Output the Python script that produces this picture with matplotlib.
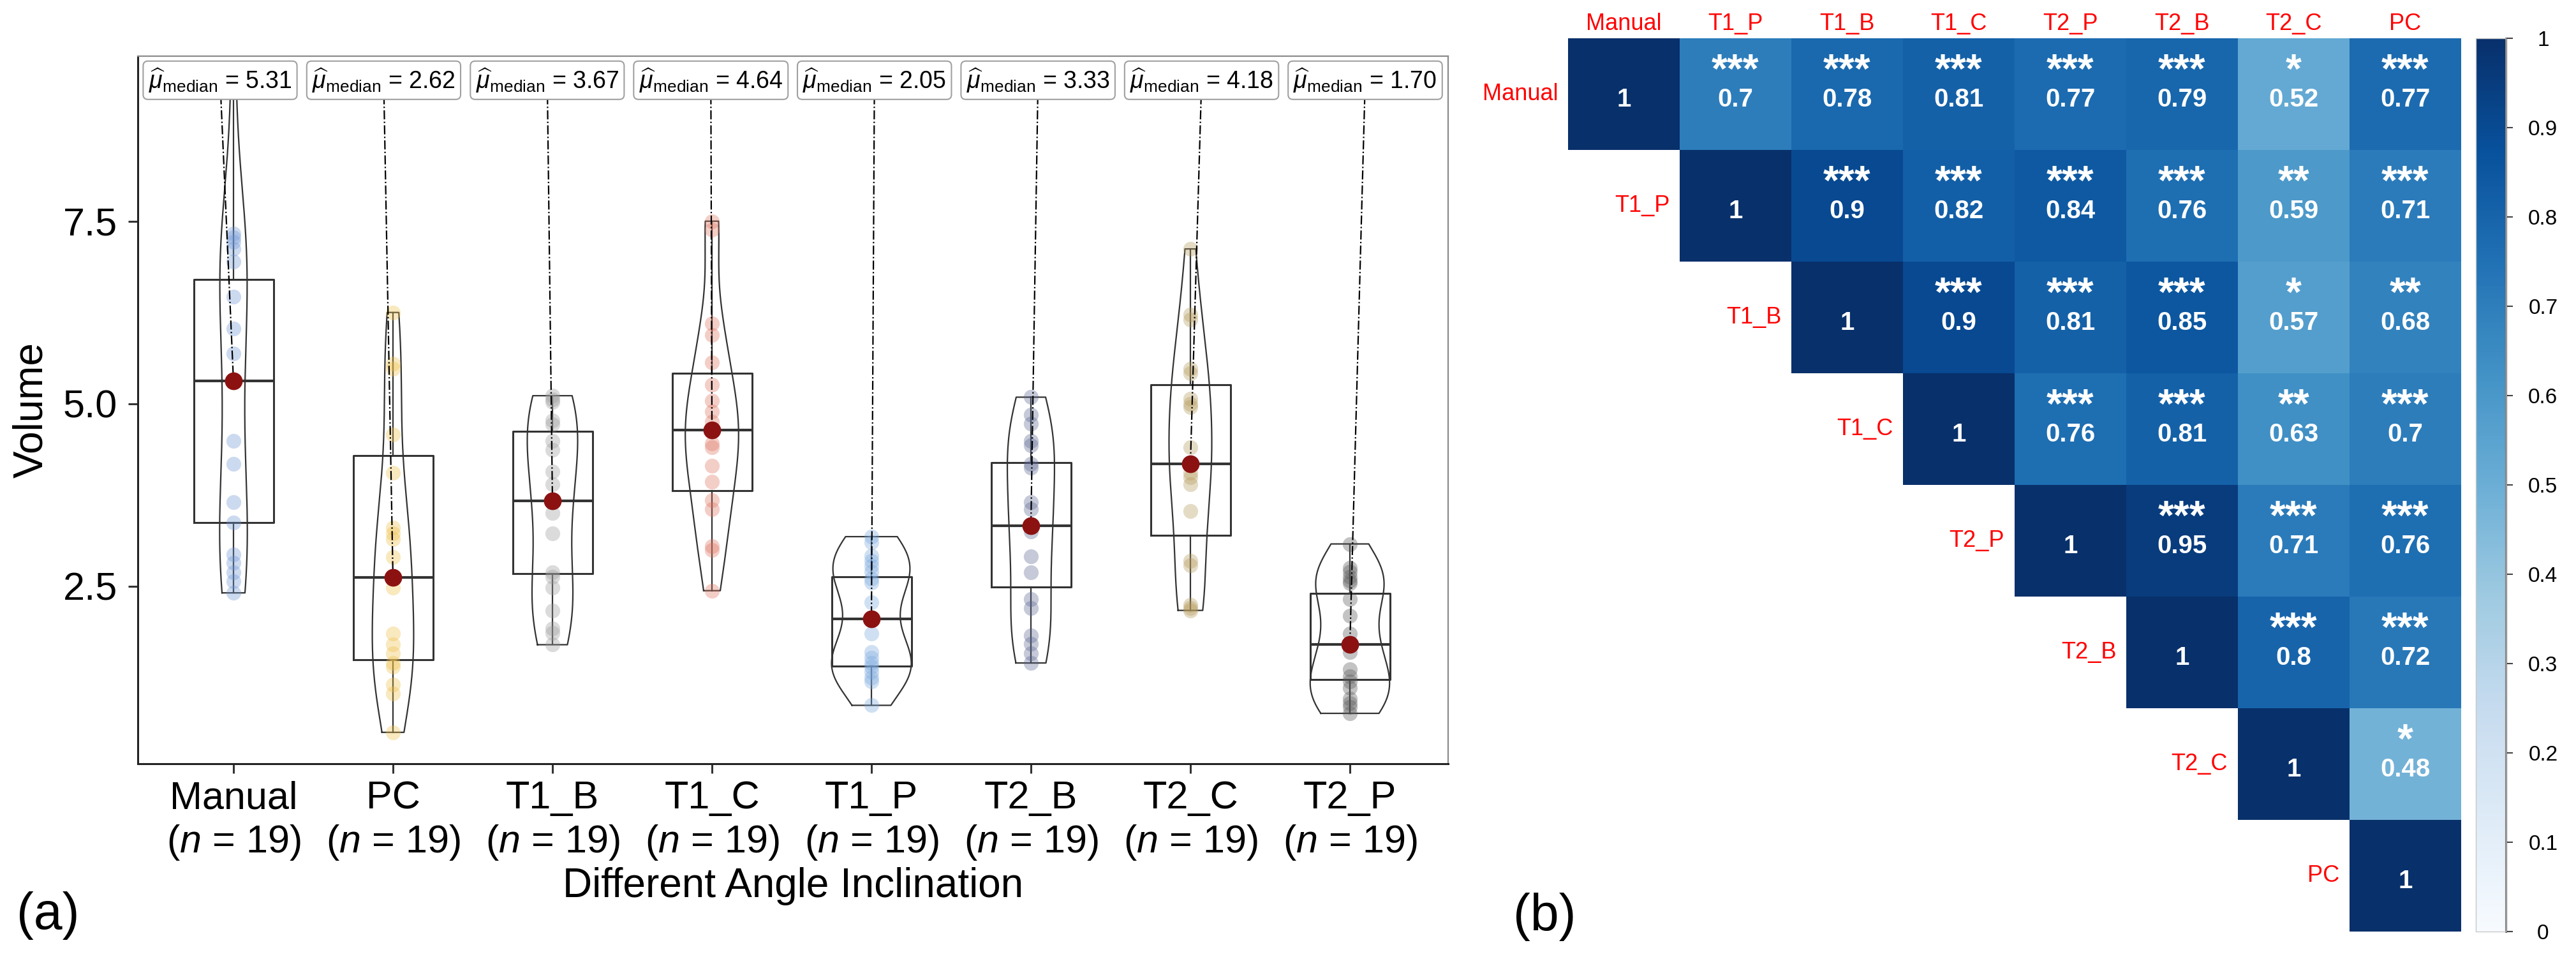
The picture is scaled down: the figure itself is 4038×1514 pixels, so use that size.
import numpy as np
import matplotlib
matplotlib.use("Agg")
import matplotlib.pyplot as plt

plt.rcParams['font.family'] = ['Liberation Sans', 'DejaVu Sans']
plt.rcParams['mathtext.fontset'] = 'custom'
plt.rcParams['mathtext.rm'] = 'Liberation Sans'
plt.rcParams['mathtext.it'] = 'Liberation Sans:italic'
plt.rcParams['mathtext.bf'] = 'Liberation Sans:bold'

# ---- panel (a): volume per angle inclination ----
groups = ['Manual', 'PC', 'T1_B', 'T1_C', 'T1_P', 'T2_B', 'T2_C', 'T2_P']
n_obs = [19, 19, 19, 19, 19, 19, 19, 19]

vol_manual = [9.60, 7.33, 7.28, 7.22, 7.12, 6.95, 6.47, 6.03, 5.69, 5.31,
              4.49, 4.18, 3.65, 3.37, 2.94, 2.82, 2.69, 2.57, 2.41]
vol_pc = [6.25, 5.55, 5.48, 4.58, 4.05, 3.30, 3.22, 3.15, 2.90, 2.62,
          2.48, 1.85, 1.70, 1.58, 1.45, 1.40, 1.15, 1.03, 0.50]
vol_t1b = [5.11, 5.06, 5.02, 4.77, 4.72, 4.49, 4.37, 4.07, 3.90, 3.67,
           3.50, 3.22, 2.69, 2.63, 2.48, 2.17, 1.92, 1.86, 1.70]
vol_t1c = [7.50, 7.38, 6.10, 5.94, 5.57, 5.26, 5.04, 4.89, 4.75, 4.64,
           4.46, 4.40, 4.15, 3.93, 3.68, 3.56, 3.05, 3.00, 2.44]
vol_t1p = [3.18, 3.10, 2.92, 2.85, 2.78, 2.70, 2.60, 2.55, 2.28, 2.05,
           1.85, 1.60, 1.52, 1.45, 1.40, 1.33, 1.25, 1.20, 0.87]
vol_t2b = [5.09, 4.85, 4.73, 4.49, 4.43, 4.18, 4.12, 3.65, 3.56, 3.33,
           3.25, 2.91, 2.69, 2.32, 2.20, 1.83, 1.71, 1.58, 1.45]
vol_t2c = [7.12, 6.22, 6.15, 5.48, 5.42, 5.07, 5.00, 4.95, 4.40, 4.18,
           4.05, 3.99, 3.90, 3.53, 2.85, 2.79, 2.25, 2.20, 2.17]
vol_t2p = [3.08, 2.75, 2.70, 2.63, 2.58, 2.54, 2.32, 2.10, 1.85, 1.70,
           1.60, 1.36, 1.27, 1.20, 1.11, 0.96, 0.90, 0.85, 0.76]
volumes = [vol_manual, vol_pc, vol_t1b, vol_t1c, vol_t1p, vol_t2b, vol_t2c, vol_t2p]

medians = [5.31, 2.62, 3.67, 4.64, 2.05, 3.33, 4.18, 1.70]
q1 = [3.37, 1.49, 2.67, 3.81, 1.41, 2.49, 3.20, 1.22]
q3 = [6.70, 4.29, 4.62, 5.42, 2.63, 4.19, 5.26, 2.40]

point_colors = ['#6f97d6', '#f0c04a', '#9a9a9a', '#de7460',
                '#7aa8de', '#5a6590', '#b4995a', '#555555']

# ---- panel (b): correlation matrix ----
corr_names = ['Manual', 'T1_P', 'T1_B', 'T1_C', 'T2_P', 'T2_B', 'T2_C', 'PC']
r_manual = [1, 0.70, 0.78, 0.81, 0.77, 0.79, 0.52, 0.77]
r_t1p = [1, 0.90, 0.82, 0.84, 0.76, 0.59, 0.71]
r_t1b = [1, 0.90, 0.81, 0.85, 0.57, 0.68]
r_t1c = [1, 0.76, 0.81, 0.63, 0.70]
r_t2p = [1, 0.95, 0.71, 0.76]
r_t2b = [1, 0.80, 0.72]
r_t2c = [1, 0.48]
r_pc = [1]
r_rows = [r_manual, r_t1p, r_t1b, r_t1c, r_t2p, r_t2b, r_t2c, r_pc]

s_manual = ['', '***', '***', '***', '***', '***', '*', '***']
s_t1p = ['', '***', '***', '***', '***', '**', '***']
s_t1b = ['', '***', '***', '***', '*', '**']
s_t1c = ['', '***', '***', '**', '***']
s_t2p = ['', '***', '***', '***']
s_t2b = ['', '***', '***']
s_t2c = ['', '*']
s_pc = ['']
s_rows = [s_manual, s_t1p, s_t1b, s_t1c, s_t2p, s_t2b, s_t2c, s_pc]

fig = plt.figure(figsize=(40.38, 15.14), dpi=100)

# ================= panel (a) =================
ax = fig.add_axes([216 / 4038, 1 - 1197 / 1514, (2270 - 216) / 4038, (1197 - 88) / 1514])
x = np.arange(1, len(groups) + 1)


def kde(vals, grid):
    v = np.asarray(vals, dtype=float)
    n = len(v)
    iqr = np.subtract(*np.percentile(v, [75, 25]))
    bw = 0.9 * min(v.std(ddof=1), iqr / 1.34) * n ** -0.2
    z = (grid[:, None] - v[None, :]) / bw
    return np.exp(-0.5 * z ** 2).sum(1) / (n * bw * np.sqrt(2 * np.pi))


grids = [np.linspace(min(v), max(v), 256) for v in volumes]
dens = [kde(v, g) for v, g in zip(volumes, grids)]
dmax = max(d.max() for d in dens)

# violins (equal area)
for xi, g, d in zip(x, grids, dens):
    hw = 0.25 * d / dmax
    xs = np.concatenate([xi - hw, (xi + hw)[::-1], [xi - hw[0]]])
    ys = np.concatenate([g, g[::-1], [g[0]]])
    ax.plot(xs, ys, color='#333333', lw=1.6, zorder=2)

# boxes
stats = []
for v, m, a, b in zip(volumes, medians, q1, q3):
    stats.append(dict(med=m, q1=a, q3=b, whislo=min(v), whishi=max(v), fliers=[]))
ax.bxp(stats, positions=x, widths=0.5, showfliers=False, showcaps=False,
       boxprops=dict(color='#333333', lw=2.2),
       medianprops=dict(color='#333333', lw=3.0),
       whiskerprops=dict(color='#333333', lw=1.6), manage_ticks=False)

# points
for xi, v, c in zip(x, volumes, point_colors):
    ax.scatter(np.full(len(v), xi), v, s=280, color=c, alpha=0.35, lw=0, zorder=3)

ax.scatter(x, medians, s=400, color='#8c1212', lw=0, zorder=5)

# median labels
label_x = np.linspace(0.916, 8.096, len(groups))
label_y = 9.43
for lx, xi, m in zip(label_x, x, medians):
    ax.plot([lx, xi], [label_y, m], ls='-.', color='black', lw=1.6, zorder=4)
    ax.text(lx, label_y, r"$\widehat{\mu}_{\mathrm{median}}$" + " = {:.2f}".format(m),
            ha='center', va='center', fontsize=27, zorder=6,
            bbox=dict(boxstyle='round,pad=0.22,rounding_size=0.2',
                      fc='white', ec='#a0a0a0', lw=1.5))

ax.set_xlim(0.4, 8.616)
ax.set_ylim(0.07, 9.76)
ax.set_yticks([2.5, 5.0, 7.5])
ax.set_yticklabels(['2.5', '5.0', '7.5'])
ax.set_xticks(x)
ax.set_xticklabels(["{}\n($\\mathit{{n}}$ = {})".format(g, n) for g, n in zip(groups, n_obs)])
ax.tick_params(axis='both', labelsize=44, length=11, width=2.2, color='#333333')
ax.tick_params(axis='x', pad=8)
ax.tick_params(axis='y', pad=12)
ax.set_xlabel('Different Angle Inclination', fontsize=46, labelpad=6)
ax.set_ylabel('Volume', fontsize=46, labelpad=14)
for side in ['left', 'bottom']:
    ax.spines[side].set_color('#222222')
    ax.spines[side].set_linewidth(2.2)
for side in ['top', 'right']:
    ax.spines[side].set_color('#8a8a8a')
    ax.spines[side].set_linewidth(1.6)

# ================= panel (b) =================
ax2 = fig.add_axes([2458 / 4038, 1 - 1460 / 1514, 1400 / 4038, 1400 / 1514])
k = len(corr_names)
mat = np.full((k, k), np.nan)
for i, row in enumerate(r_rows):
    mat[i, i:] = row
im = ax2.imshow(np.ma.masked_invalid(mat), cmap='Blues', vmin=0, vmax=1,
                extent=(-0.5, k - 0.5, k - 0.5, -0.5), interpolation='nearest')
ax2.set_xlim(-0.5, k - 0.5)
ax2.set_ylim(k - 0.5, -0.5)
ax2.axis('off')

for i, (row, srow) in enumerate(zip(r_rows, s_rows)):
    for off, (r, s) in enumerate(zip(row, srow)):
        j = i + off
        ax2.text(j, i + 0.11, '{:g}'.format(r), ha='center', va='baseline',
                 color='white', fontsize=29, fontweight='bold')
        if s:
            ax2.text(j, i - 0.20, s, ha='center', va='center',
                     color='white', fontsize=46, fontweight='bold')

for j, name in enumerate(corr_names):
    ax2.text(j, -0.53, name, ha='center', va='bottom', color='red', fontsize=26)
    ax2.text(j - 0.59, j, name, ha='right', va='center', color='red', fontsize=26)

cax = fig.add_axes([3881 / 4038, 1 - 1460 / 1514, 47 / 4038, 1400 / 1514])
cb = fig.colorbar(im, cax=cax, ticks=np.linspace(0, 1, 11))
cb.outline.set_edgecolor('#c8c8c8')
cb.outline.set_linewidth(1.0)
cb.ax.set_yticklabels(['{:g}'.format(round(t, 1)) for t in np.linspace(0, 1, 11)])
cax.tick_params(labelsize=24, length=8, width=1.5, color='#444444', pad=34)
for lab in cax.get_yticklabels():
    lab.set_horizontalalignment('center')
cax.plot([1, 1], [0, 1], transform=cax.transAxes, color='#555555', lw=2.2, clip_on=False)

fig.text(75 / 4038, 1 - 1435 / 1514, '(a)', fontsize=58, ha='center', va='center')
fig.text(2421 / 4038, 1 - 1437 / 1514, '(b)', fontsize=58, ha='center', va='center')

fig.savefig('out.png', dpi=100, facecolor='white')
